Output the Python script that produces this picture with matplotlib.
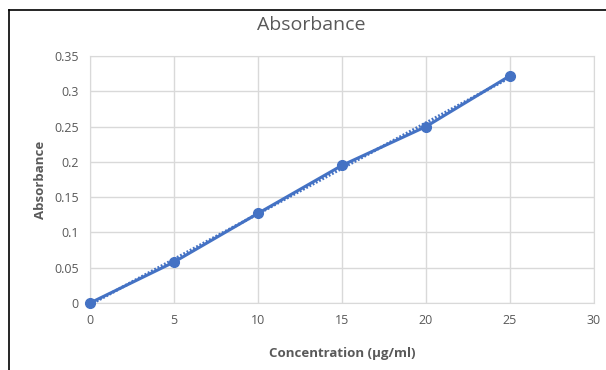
import numpy as np
import matplotlib.pyplot as plt
from matplotlib.lines import Line2D

# data
conc = [0, 5, 10, 15, 20, 25]
absorb = [0.0, 0.058, 0.127, 0.195, 0.250, 0.322]

blue = '#4472C4'
grey = '#595959'

plt.rcParams['font.family'] = ['Open Sans', 'DejaVu Sans']

fig = plt.figure(figsize=(6.06, 3.70), dpi=100)
ax = fig.add_axes([90/606, 1-303/370, (594-90)/606, (303-56)/370])

# linear trendline (dotted)
k, b = np.polyfit(conc, absorb, 1)
tx = np.array([conc[0], conc[-1]])
ax.plot(tx, k*tx + b, color=blue, lw=2.2, ls=(0, (0.6, 0.6)), zorder=2)

ax.plot(conc, absorb, color=blue, lw=2.2, marker='o', ms=7, zorder=3, clip_on=False)

ax.set_xlim(0, 30)
ax.set_ylim(0, 0.35)
ax.set_xticks(range(0, 31, 5))
ax.set_yticks(np.arange(0, 0.351, 0.05))
ax.set_yticklabels(['0', '0.05', '0.1', '0.15', '0.2', '0.25', '0.3', '0.35'])
ax.grid(color='#d9d9d9', lw=1)
ax.set_axisbelow(True)
for s in ax.spines.values():
	s.set_color('#d9d9d9')
ax.tick_params(length=0, colors=grey, labelsize=9, pad=8)

fig.text(311/606, 1-25/370, 'Absorbance', fontsize=14, color=grey, ha='center', va='center')
ax.set_xlabel('Concentration (µg/ml)', fontsize=9.5, fontweight='bold', color=grey, labelpad=14)
ax.set_ylabel('Absorbance', fontsize=9.5, fontweight='bold', color=grey, labelpad=5)

# black frame lines at left and top of the screenshot
fig.add_artist(Line2D([9/606, 9/606], [0, 1-10/370], transform=fig.transFigure, color='black', lw=1.2))
fig.add_artist(Line2D([9/606, 1], [1-10/370, 1-10/370], transform=fig.transFigure, color='black', lw=1.2))

fig.savefig('out.png', dpi=100)
